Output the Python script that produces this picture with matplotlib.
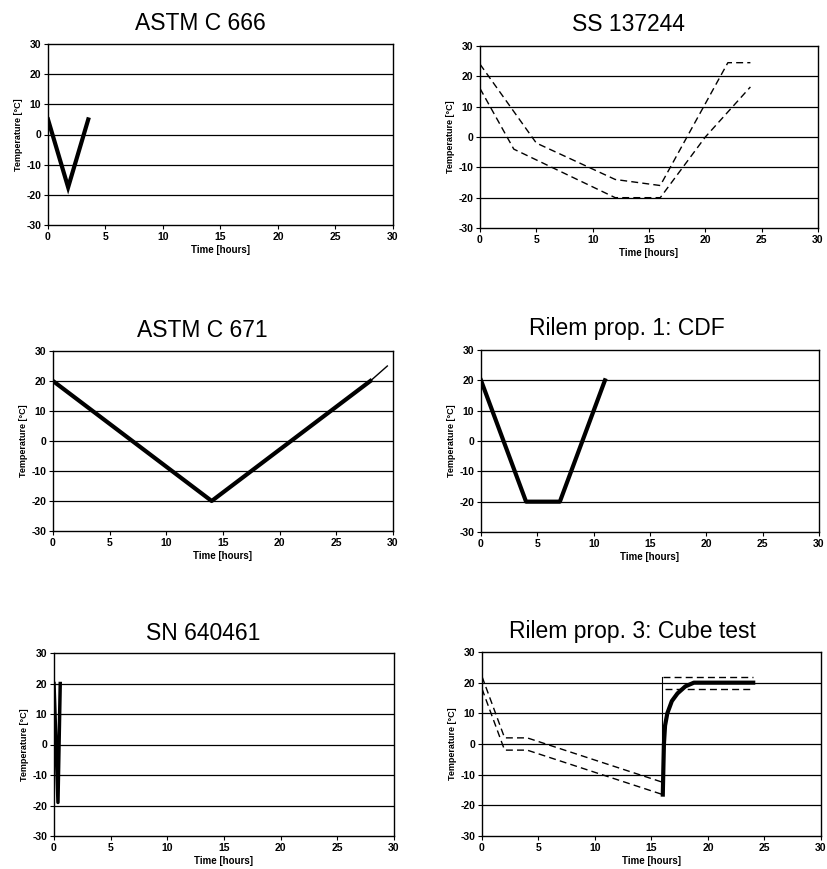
import matplotlib
matplotlib.use("Agg")
import matplotlib.pyplot as plt

plt.rcParams['font.family'] = ['Liberation Sans', 'DejaVu Sans']
plt.rcParams['axes.unicode_minus'] = False

W, H = 828, 869

# ASTM C 666
c666_t = [0, 1.75, 3.5]
c666_T = [5, -17.5, 5]

# SS 137244 (upper and lower limits)
ss_up_t = [0, 5, 12, 16, 22, 24]
ss_up_T = [24, -2, -14, -16, 24.5, 24.5]
ss_lo_t = [0, 3, 12, 16, 20, 24]
ss_lo_T = [16, -4, -20, -20, 0, 16.5]

# ASTM C 671
c671_t = [0, 14, 28]
c671_T = [20, -20, 20]
c671_ext_t = [28, 29.5]
c671_ext_T = [20, 25]

# Rilem prop. 1: CDF
cdf_t = [0, 4, 7, 11]
cdf_T = [20, -20, -20, 20]

# SN 640461
sn_t = [0, 0.35, 0.55]
sn_T = [20, -19, 20]

# Rilem prop. 3: Cube test
cube_up_t = [0, 2, 4, 16]
cube_up_T = [22, 2, 2, -12.5]
cube_lo_t = [0, 2, 4, 16]
cube_lo_T = [18, -2, -2, -16.5]
cube_top_t = [16, 24]
cube_top_T = [22, 22]
cube_bot_t = [16.2, 24]
cube_bot_T = [18, 18]
cube_step_t = [15.9, 15.9]
cube_step_T = [-16, 22]
cube_t = [16, 16.05, 16.1, 16.2, 16.4, 16.8, 17.3, 18, 18.75, 24]
cube_T = [-16.5, -8, 0, 6, 10, 14, 16.5, 18.8, 20, 20]

fig = plt.figure(figsize=(W / 100, H / 100), dpi=100)


def make_axes(box, title, title_xy):
    l, t, r, b = box
    ax = fig.add_axes([l / W, 1 - b / H, (r - l) / W, (b - t) / H])
    ax.set_xlim(0, 30)
    ax.set_ylim(-30, 30)
    ax.set_xticks(range(0, 31, 5))
    ax.set_yticks(range(-30, 31, 10))
    for y in (-20, -10, 0, 10, 20):
        ax.axhline(y, color='black', lw=0.9, zorder=1)
    for s in ax.spines.values():
        s.set_linewidth(1.0)
    ax.tick_params(direction='out', length=3, width=0.8, labelsize=7.5, pad=2)
    for lab in ax.get_xticklabels() + ax.get_yticklabels():
        lab.set_fontweight('bold')
    ax.set_xlabel('Time [hours]', fontsize=7, fontweight='bold', labelpad=2)
    ax.set_ylabel('Temperature [°C]', fontsize=6.5, fontweight='bold', labelpad=2)
    fig.text(title_xy[0] / W, 1 - title_xy[1] / H, title, ha='center',
             va='baseline', fontsize=16.5)
    return ax


ax1 = make_axes((48, 44, 393, 225), 'ASTM C 666', (200, 30))
ax1.plot(c666_t, c666_T, color='black', lw=3, solid_joinstyle='miter')

ax2 = make_axes((480, 46, 818, 228), 'SS 137244', (628, 31))
ax2.plot(ss_up_t, ss_up_T, color='black', lw=1, ls=(0, (5, 3)))
ax2.plot(ss_lo_t, ss_lo_T, color='black', lw=1, ls=(0, (5, 3)))

ax3 = make_axes((53, 351, 393, 531), 'ASTM C 671', (202, 337))
ax3.plot(c671_t, c671_T, color='black', lw=3)
ax3.plot(c671_ext_t, c671_ext_T, color='black', lw=1)

ax4 = make_axes((481, 350, 819, 532), 'Rilem prop. 1: CDF', (627, 335))
ax4.plot(cdf_t, cdf_T, color='black', lw=3)

ax5 = make_axes((54, 653, 394, 836), 'SN 640461', (203, 640))
ax5.plot(sn_t, sn_T, color='black', lw=2.5)

ax6 = make_axes((482, 652, 821, 836), 'Rilem prop. 3: Cube test', (632, 638))
ax6.plot(cube_up_t, cube_up_T, color='black', lw=1, ls=(0, (5, 3)))
ax6.plot(cube_lo_t, cube_lo_T, color='black', lw=1, ls=(0, (5, 3)))
ax6.plot(cube_top_t, cube_top_T, color='black', lw=1, ls=(0, (5, 3)))
ax6.plot(cube_bot_t, cube_bot_T, color='black', lw=1, ls=(0, (5, 3)))
ax6.plot(cube_step_t, cube_step_T, color='black', lw=0.8)
ax6.plot(cube_t, cube_T, color='black', lw=3)

fig.savefig('out.png', dpi=100)
